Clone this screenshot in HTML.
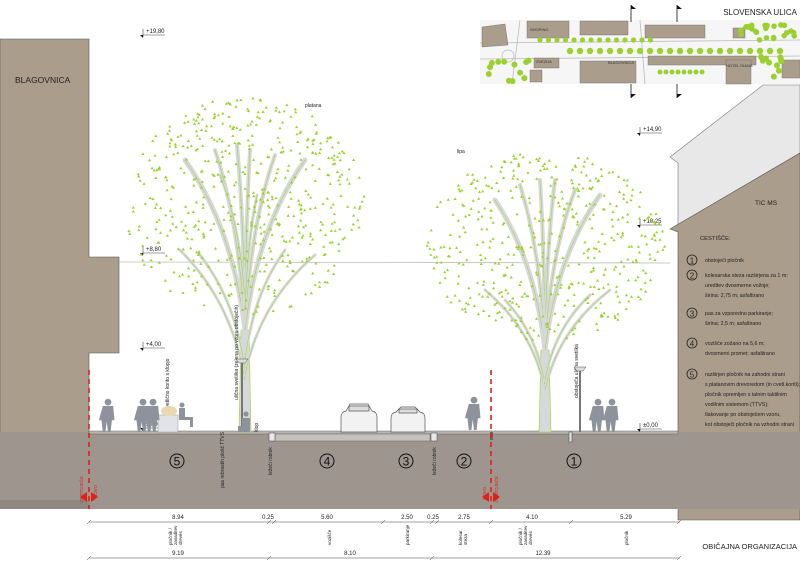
<!DOCTYPE html>
<html><head><meta charset="utf-8"><style>
html,body{margin:0;padding:0;background:#fff}
svg{display:block}
text{font-family:"Liberation Sans",sans-serif}
</style></head><body>
<svg id="s" width="800" height="566" viewBox="0 0 800 566" xmlns="http://www.w3.org/2000/svg">
<rect width="800" height="566" fill="#fff"/>
<polygon points="0,39 89,39 89,257 119,257 119,353 89,353 89,500 0,500" fill="#ab9d8b" stroke="#555" stroke-width="0.6"/>
<text x="15" y="83" font-size="8.5" fill="#222">BLAGOVNICA</text>
<polygon points="670,157 763,85 800,85 800,153 678,225 678,217 678,163" fill="#e8e8e8" stroke="#777" stroke-width="0.6"/>
<polygon points="670,229 800,153 800,520 678,520 678,232" fill="#ab9d8b" stroke="#555" stroke-width="0.6"/>
<text x="755" y="205" font-size="6.5" fill="#222">TIC MS</text>
<line x1="119" y1="262" x2="670" y2="263" stroke="#bbb" stroke-width="0.8"/>
<rect x="0" y="432" width="800" height="77" fill="#9d958e"/>
<rect x="0" y="500" width="89" height="9" fill="#8f8882"/>
<rect x="89" y="431" width="589" height="3" fill="#b9b5b1" stroke="#555" stroke-width="0.4"/>
<rect x="275" y="434" width="155" height="7" fill="#c4c1be" stroke="#555" stroke-width="0.4"/>
<rect x="269" y="433" width="6" height="8" fill="#e8e8e8" stroke="#444" stroke-width="0.5"/>
<rect x="431" y="433" width="6" height="8" fill="#e8e8e8" stroke="#444" stroke-width="0.5"/>
<rect x="569" y="432" width="3" height="10" fill="#ddd" stroke="#444" stroke-width="0.5"/>
<rect x="490" y="432" width="3" height="8" fill="#666"/>
<line x1="89" y1="370" x2="89" y2="509" stroke="#e0201a" stroke-width="1.6" stroke-dasharray="5,4"/>
<line x1="491" y1="370" x2="491" y2="509" stroke="#e0201a" stroke-width="1.6" stroke-dasharray="5,4"/>
<polygon points="80,497 87,492 87,502" fill="#e0201a"/><polygon points="98,497 91,492 91,502" fill="#e0201a"/>
<polygon points="482,497 489,492 489,502" fill="#e0201a"/><polygon points="500,497 493,492 493,502" fill="#e0201a"/>
<text transform="translate(83,503) rotate(-90)" font-size="4.5" fill="#e0201a">OBSTOJEČE</text>
<text transform="translate(97,498) rotate(-90)" font-size="4.5" fill="#e0201a">NOVO</text>
<text transform="translate(486,500) rotate(-90)" font-size="4.5" fill="#e0201a">NOVO</text>
<text transform="translate(498,503) rotate(-90)" font-size="4.5" fill="#e0201a">OBSTOJEČE</text>
<g font-size="12" text-anchor="middle" fill="#111">
<circle cx="177" cy="461" r="7" fill="none" stroke="#111"/><text x="177" y="465.5">5</text>
<circle cx="327" cy="461" r="7" fill="none" stroke="#111"/><text x="327" y="465.5">4</text>
<circle cx="406" cy="461" r="7" fill="none" stroke="#111"/><text x="406" y="465.5">3</text>
<circle cx="464" cy="461" r="7" fill="none" stroke="#111"/><text x="464" y="465.5">2</text>
<circle cx="574" cy="461" r="7" fill="none" stroke="#111"/><text x="574" y="465.5">1</text>
</g>
<g font-size="5" fill="#222">
<text transform="translate(224,488) rotate(-90)">pas rebrastih plošč TTVS</text>
<text transform="translate(272,475) rotate(-90)">ležeči robnik</text>
<text transform="translate(436,475) rotate(-90)">ležeči robnik</text>
<text x="305" y="107">platana</text>
<text x="457" y="153">lipa</text>
</g>
<g font-size="6" fill="#222" stroke-width="0.6"><g id="em"></g></g>
<g id="trees"></g>
<g font-size="5" fill="#222">
<text transform="translate(238,400) rotate(-90)">ulična svetilka (zelena po vzoru obstoječih)</text>
<text transform="translate(169,410) rotate(-90)">cvetlično korito s klopjo</text>
<text transform="translate(578,398) rotate(-90)">obstoječa ulična svetilka</text>
<text transform="translate(258,432) rotate(-90)">klop</text>
</g>
<line x1="242" y1="360" x2="242" y2="432" stroke="#777" stroke-width="2"/><path d="M236,359 h12 l-3,4 h-6z" fill="#ddd" stroke="#555" stroke-width="0.5"/>
<line x1="580" y1="368" x2="580" y2="432" stroke="#777" stroke-width="2"/><path d="M574,367 h12 l-3,4 h-6z" fill="#ddd" stroke="#555" stroke-width="0.5"/>
<rect x="158" y="415" width="20" height="17" fill="#e0e4e8" stroke="#999" stroke-width="0.5"/>
<ellipse cx="169" cy="411" rx="8" ry="5" fill="#ead9b0"/>
<g fill="#8e929c" id="ppl"></g>
<g stroke="#555" stroke-width="0.7" fill="#f2f2f2">
<path d="M341,432 v-15 q0,-5 5,-6 l4,-7 h18 l4,7 q5,1 5,6 v15 z"/>
<rect x="349" y="406" width="20" height="5" fill="#ddd"/>
<path d="M391,432 v-14 q0,-5 5,-6 l5,-5 h14 l5,5 q5,1 5,6 v14 z"/>
<rect x="399" y="409" width="18" height="4" fill="#ddd"/>
</g>
<g>
<rect x="480" y="20" width="320" height="64" fill="#f6f6f6"/>
<g stroke="#bbb" stroke-width="0.8" fill="none">
<line x1="480" y1="43" x2="800" y2="40"/><line x1="480" y1="59" x2="800" y2="56"/>
<line x1="520" y1="20" x2="512" y2="84"/><line x1="640" y1="20" x2="645" y2="84"/>
<circle cx="508" cy="56" r="6"/>
</g>
<g fill="#ab9d8b" stroke="#666" stroke-width="0.4">
<polygon points="482,27 505,24 508,45 482,47"/>
<rect x="527" y="21" width="42" height="17"/>
<rect x="580" y="21" width="48" height="14"/>
<rect x="645" y="25" width="60" height="13"/>
<rect x="733" y="28" width="12" height="10"/>
<rect x="534" y="58" width="25" height="10"/>
<rect x="580" y="61" width="56" height="22"/>
<rect x="648" y="56" width="108" height="9"/>
<rect x="726" y="60" width="25" height="24"/>
<rect x="782" y="60" width="18" height="18"/>
<rect x="530" y="70" width="12" height="12"/>
</g>
<g id="mapt" fill="#9bd12e"></g>
<g font-size="4" fill="#333"><text x="530" y="31">SHOPING</text><text x="536" y="63">ZVEZDA</text><text x="608" y="64">BLAGOVNICA</text><text x="726" y="67">HOTEL DIANA</text></g>
<g stroke="#111" stroke-width="0.8"><line x1="631" y1="5" x2="631" y2="22"/><line x1="631" y1="84" x2="631" y2="98"/><line x1="677" y1="5" x2="677" y2="22"/><line x1="677" y1="84" x2="677" y2="98"/></g>
<g fill="#111"><path d="M631,5 l5,4 h-5z"/><path d="M677,5 l5,4 h-5z"/><path d="M631,98 l5,-4 h-5z"/><path d="M677,98 l5,-4 h-5z"/></g>
<rect x="728" y="4" width="72" height="14" fill="#fff"/>
<text x="797" y="15" font-size="8" fill="#222" text-anchor="end">SLOVENSKA ULICA</text>
</g>
<g font-size="5.3" fill="#222" id="leg">
<text x="700" y="240" font-size="5.8">CESTIŠČE:</text>
</g>
<g stroke="#444" stroke-width="0.5">
<line x1="89" y1="522" x2="680" y2="522"/><line x1="89" y1="558" x2="680" y2="558"/>
<g id="ticks"></g>
</g>
<g font-size="6" fill="#222" text-anchor="middle">
<text x="178" y="519">8.94</text><text x="268" y="519">0.25</text><text x="327" y="519">5.60</text><text x="407" y="519">2.50</text><text x="433" y="519">0.25</text><text x="464" y="519">2.75</text><text x="532" y="519">4.10</text><text x="626" y="519">5.29</text>
<text x="178" y="555">9.19</text><text x="350" y="555">8.10</text><text x="543" y="555">12.39</text>
</g>
<g font-size="4.6" fill="#222">
<text transform="translate(172,545) rotate(-90)">pločnik /</text><text transform="translate(177,545) rotate(-90)">zasaditev</text><text transform="translate(182,545) rotate(-90)">drevés</text>
<text transform="translate(331,545) rotate(-90)">vozišče</text>
<text transform="translate(409,545) rotate(-90)">parkiranje</text>
<text transform="translate(462,545) rotate(-90)">kolesar.</text><text transform="translate(467,545) rotate(-90)">steza</text>
<text transform="translate(522,545) rotate(-90)">pločnik /</text><text transform="translate(527,545) rotate(-90)">zasaditev</text><text transform="translate(532,545) rotate(-90)">drevés</text>
<text transform="translate(628,545) rotate(-90)">pločnik</text>
</g>
<text x="797" y="549" font-size="7.5" fill="#222" text-anchor="end">OBIČAJNA ORGANIZACIJA</text>
</svg>
<script>
var NS="http://www.w3.org/2000/svg";
function el(p,t,a){var e=document.createElementNS(NS,t);for(var k in a)e.setAttribute(k,a[k]);p.appendChild(e);return e;}
var seed=7;function r(){seed=(seed*16807)%2147483647;return seed/2147483647;}
var em=document.getElementById('em');
[[143,32,"+19,80"],[143,250,"+8,80"],[143,345,"+4,00"],[143,425,"±0,00"],[640,130,"+14,90"],[640,222,"+10,25"],[640,426,"±0,00"]].forEach(function(m){
 el(em,'line',{x1:m[0],y1:m[1]+3,x2:m[0]+22,y2:m[1]+3,stroke:"#444"});
 el(em,'line',{x1:m[0],y1:m[1]-3,x2:m[0],y2:m[1]+5,stroke:"#444"});
 el(em,'path',{d:"M"+(m[0]-3)+","+(m[1]+3)+" l3,3 v-3z",fill:"#111"});
 var t=el(em,'text',{x:m[0]+3,y:m[1]+1});t.textContent=m[2];});
var tg=document.getElementById('trees');
function tree(cx,cy,rx,ry,baseY,splitY,br,n){
 var d="";for(var i=0;i<n;i++){var a=r()*6.283,rr=Math.sqrt(r());var x=cx+Math.cos(a)*rr*rx,y=cy+Math.sin(a)*rr*ry;
  d+="M"+x.toFixed(1)+","+y.toFixed(1)+"l1.6,2.6h-3.2z";}
 el(tg,'path',{d:"M"+(cx-6)+","+baseY+" L"+(cx-4)+","+splitY+" L"+(cx+4)+","+splitY+" L"+(cx+6)+","+baseY+"z",fill:"#d6d8da",stroke:"#9bd12e","stroke-width":0.6});
 br.forEach(function(b){var sx=cx,sy=b[0],ex=cx+b[1],ey=b[2];
  var p="M"+sx+","+sy+" Q"+(sx+(ex-sx)*0.2)+","+(sy-(sy-ey)*0.6)+" "+ex+","+ey;
  el(tg,'path',{d:p,fill:"none",stroke:"#d6d8da","stroke-width":b[3]||4,"stroke-linecap":"round"});
  el(tg,'path',{d:p,fill:"none",stroke:"#9bd12e","stroke-width":0.5});});
 el(tg,'path',{d:d,fill:"#9bd12e"});}
tree(245,205,120,110,432,330,[[330,-60,160,5],[330,-30,150,4],[320,-8,145,4],[320,5,150,4],[325,30,155,4],[330,60,160,5],[380,-65,250,3],[370,-45,255,3],[360,40,250,3],[375,70,255,3],[300,-25,175,3],[310,12,195,3]],520);
tree(545,245,120,95,432,350,[[350,-50,200,5],[345,-25,185,4],[340,-5,180,4],[340,10,180,4],[345,30,190,4],[350,55,195,5],[390,-60,290,3],[385,-40,300,3],[380,45,295,3],[390,65,290,3]],460);
var pp=document.getElementById('ppl');
function person(x,y){var g=el(pp,'g',{transform:"translate("+x+","+y+") scale(1.3)"});
 el(g,'circle',{cx:0,cy:-23,r:2.6});
 el(g,'path',{d:"M-4,-20 h8 l1,11 h-2 l-1,9 h-2 l-1,-8 l-1,8 h-2 l-1,-9 h-2z"});}
[[108,432],[143,432],[153,432],[474,430],[598,432],[612,432]].forEach(function(p){person(p[0],p[1]);});
el(pp,'circle',{cx:182,cy:405,r:2.5});el(pp,'path',{d:"M179,408h6v9h8v10h-3v-7h-11z"});
el(pp,'circle',{cx:246,cy:414,r:2.6});el(pp,'path',{d:"M242,418h8v8h-8z M238,426h12v6h-12z"});
var mt=document.getElementById('mapt');
for(var i=0;i<22;i++){el(mt,'circle',{cx:570+i*10,cy:51,r:3.2});}
for(var i=0;i<14;i++){el(mt,'circle',{cx:540+i*8.5,cy:40,r:2.6});}
for(var i=0;i<25;i++){el(mt,'circle',{cx:740+r()*55,cy:24+r()*18,r:2.8});}
for(var i=0;i<12;i++){el(mt,'circle',{cx:485+r()*45,cy:60+r()*22,r:3});}
for(var i=0;i<10;i++){el(mt,'circle',{cx:760+r()*25,cy:55+r()*25,r:3});}
for(var i=0;i<8;i++){el(mt,'circle',{cx:660+i*6,cy:72,r:2.5});}
var lg=document.getElementById('leg');
var L=[[262,"1",["obstoječi pločnik"]],[277,"2",["kolesarska steza razširjena za 1 m;","ureditev dvosmerne vožnje;","širina: 2,75 m; asfaltirano"]],[315,"3",["pas za vzporedno parkiranje;","širina: 2,5 m; asfaltirano"]],[345,"4",["vozišče zožano na 5,6 m;","dvosmerni promet; asfaltirano"]],[376,"5",["razširjen pločnik na zahodni strani","s platanovim drevoredom (in cvetl.koriti);","pločnik opremljen s talnim taktilnim","vodilnim sistemom (TTVS);","tlakovanje po obstoječem vzoru,","kot obstoječi pločnik na vzhodni strani"]]];
L.forEach(function(l){el(lg,'circle',{cx:692,cy:l[0]-2,r:5,fill:"none",stroke:"#222","stroke-width":0.8});
 var t=el(lg,'text',{x:692,y:l[0]+1.5,"text-anchor":"middle","font-size":8});t.textContent=l[1];
 l[2].forEach(function(s,i){var u=el(lg,'text',{x:705,y:l[0]+i*10});u.textContent=s;});});
var tk=document.getElementById('ticks');
[89,269,274,383,432,437,491,571,679].forEach(function(x){el(tk,'line',{x1:x-2,y1:524,x2:x+2,y2:520});});
[89,269,432,679].forEach(function(x){el(tk,'line',{x1:x-2,y1:560,x2:x+2,y2:556});});
</script>
</body></html>
